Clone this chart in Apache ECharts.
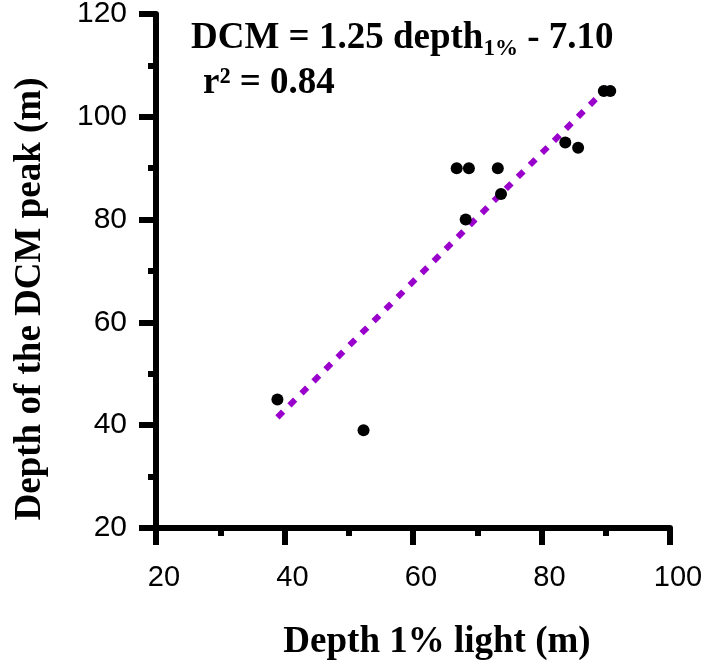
<!DOCTYPE html>
<html>
<head>
<meta charset="utf-8">
<title>DCM depth vs 1% light depth</title>
<script src="https://cdn.jsdelivr.net/npm/echarts@6/dist/echarts.min.js"></script>
<style>
  html, body { margin: 0; padding: 0; background: #fff; }
  #chart { width: 715px; height: 660px; }
</style>
</head>
<body>
<div id="chart"></div>
<script>
// Station observations: depth of 1% surface light vs depth of the DCM peak (m)
const lightDepth = [38.9, 52.3, 66.8, 68.7, 73.2, 73.7, 68.2, 83.7, 85.7, 89.7, 90.7];
const dcmDepth   = [45,   39,   90,   90,   90,   85,   80,   95,   94,   105,  105];

// Least-squares fit reported on the chart
const slope = 1.25;
const intercept = -7.10;
const rSquared = 0.84;

const xTicks = [20, 40, 60, 80, 100];
const yTicks = [20, 40, 60, 80, 100, 120];

const points = lightDepth.map((x, i) => [x, dcmDepth[i]]);
const xMin = Math.min(...lightDepth), xMax = Math.max(...lightDepth);
const fitLine = [xMin, xMax].map(x => [x, slope * x + intercept]);

const serif = '"Liberation Serif", "Times New Roman", serif';
const sans = '"Liberation Sans", Arial, sans-serif';

const chart = echarts.init(document.getElementById('chart'), null, { renderer: 'canvas' });

const axisCommon = {
  type: 'value',
  splitNumber: 2,
  axisLine: { show: true, onZero: false, lineStyle: { color: '#000', width: 6 } },
  axisTick: { show: true, inside: false, length: 17, lineStyle: { color: '#000', width: 6 } },
  minorTick: { show: true, splitNumber: 2, length: 8, lineStyle: { color: '#000', width: 6 } },
  splitLine: { show: false },
  minorSplitLine: { show: false }
};

chart.setOption({
  animation: false,
  backgroundColor: '#fff',
  grid: { left: 156, right: 45, top: 14, bottom: 132, containLabel: false, outerBoundsMode: 'none' },
  xAxis: Object.assign({}, axisCommon, {
    min: xTicks[0], max: xTicks[xTicks.length - 1], interval: 20,
    name: 'Depth 1% light (m)',
    nameLocation: 'middle',
    nameGap: 96,
    nameTextStyle: {
      fontFamily: serif, fontWeight: 'bold', fontSize: 37, color: '#000',
      padding: [0, 0, 0, 48]
    },
    axisLabel: {
      margin: 35, fontFamily: sans, fontSize: 29, color: '#000',
      padding: [0, 0, 0, 16]
    }
  }),
  yAxis: Object.assign({}, axisCommon, {
    min: yTicks[0], max: yTicks[yTicks.length - 1], interval: 20,
    name: 'Depth of the DCM peak (m)',
    nameLocation: 'middle',
    nameGap: 107,
    nameTextStyle: {
      fontFamily: serif, fontWeight: 'bold', fontSize: 37, color: '#000',
      padding: [0, 56, 0, 0]
    },
    axisLabel: {
      margin: 29, fontFamily: sans, fontSize: 30, color: '#000',
      padding: [12, 0, 0, 0]
    }
  }),
  graphic: [
    {
      type: 'text',
      left: 191, top: 20,
      style: {
        text: '{a|DCM = 1.25 depth}{b|1%}{a| - 7.10}',
        rich: {
          a: { fontFamily: serif, fontWeight: 'bold', fontSize: 37, color: '#000', lineHeight: 37, verticalAlign: 'top' },
          b: { fontFamily: serif, fontWeight: 'bold', fontSize: 23, color: '#000', lineHeight: 23, verticalAlign: 'top', padding: [18, 0, 0, 0] }
        }
      }
    },
    {
      type: 'text',
      left: 203, top: 65,
      style: {
        text: 'r\u00b2 = ' + rSquared.toFixed(2),
        fontFamily: serif, fontWeight: 'bold', fontSize: 37, fill: '#000'
      }
    }
  ],
  series: [
    {
      type: 'line',
      data: fitLine,
      symbol: 'none',
      z: 3,
      lineStyle: { color: '#9900CC', width: 6, type: [8, 9], cap: 'butt' }
    },
    {
      type: 'scatter',
      data: points,
      symbol: 'circle',
      symbolSize: 12,
      z: 4,
      itemStyle: { color: '#000', opacity: 1 }
    }
  ]
});
</script>
</body>
</html>
